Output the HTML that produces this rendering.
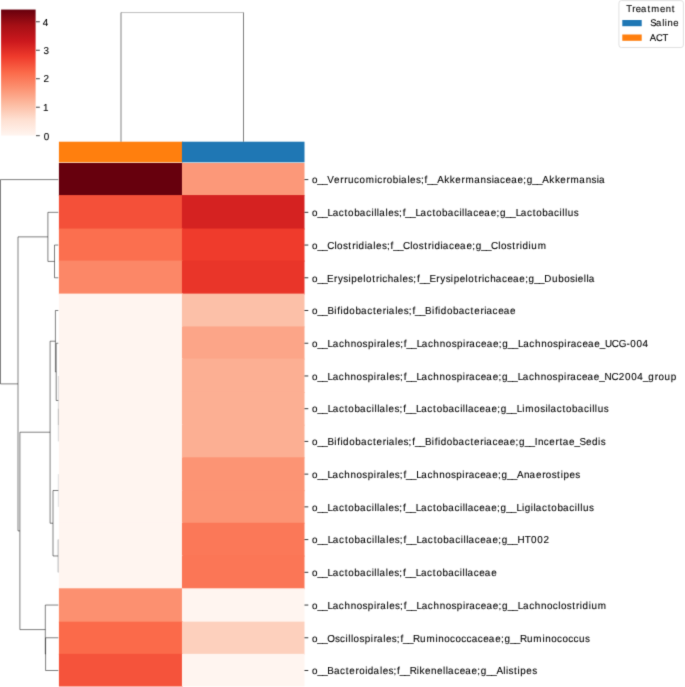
<!DOCTYPE html>
<html><head><meta charset="utf-8"><style>
html,body{margin:0;padding:0;background:#fff;width:685px;height:687px;overflow:hidden;position:relative}
svg text{font-family:"Liberation Sans",sans-serif;fill:#000;stroke:#000;stroke-width:0.1px;text-rendering:geometricPrecision}
</style></head><body>
<svg width="685" height="687" viewBox="0 0 685 687" style="position:absolute;left:0;top:0">
<defs><filter id="soft" x="0" y="0" width="1" height="1" color-interpolation-filters="sRGB"><feConvolveMatrix order="3" kernelMatrix="0.0144 0.0912 0.0144 0.0912 0.5776 0.0912 0.0144 0.0912 0.0144" edgeMode="duplicate" preserveAlpha="true"/></filter></defs>
<g filter="url(#soft)">
<rect width="685" height="687" fill="#fff"/>
<defs><linearGradient id="cb" x1="0" y1="1" x2="0" y2="0">
<stop offset="0.0000" stop-color="#fff5f0"/>
<stop offset="0.1250" stop-color="#fee0d2"/>
<stop offset="0.2500" stop-color="#fcbba1"/>
<stop offset="0.3750" stop-color="#fc9272"/>
<stop offset="0.5000" stop-color="#fb6a4a"/>
<stop offset="0.6250" stop-color="#ef3b2c"/>
<stop offset="0.7500" stop-color="#cb181d"/>
<stop offset="0.8750" stop-color="#a50f15"/>
<stop offset="1.0000" stop-color="#67000d"/>
</linearGradient></defs>
<rect x="1.1" y="9.55" width="34.50" height="126.05" fill="url(#cb)"/>
<line x1="36.0" y1="135.70" x2="39.8" y2="135.70" stroke="#000" stroke-width="0.75"/>
<text transform="scale(0.975,1)" x="44.97" y="140.00" font-size="10.15">0</text>
<line x1="36.0" y1="107.22" x2="39.8" y2="107.22" stroke="#000" stroke-width="0.75"/>
<text transform="scale(0.975,1)" x="44.22" y="111.00" font-size="10.15">1</text>
<line x1="36.0" y1="78.74" x2="39.8" y2="78.74" stroke="#000" stroke-width="0.75"/>
<text transform="scale(0.975,1)" x="44.51" y="82.00" font-size="10.15">2</text>
<line x1="36.0" y1="50.26" x2="39.8" y2="50.26" stroke="#000" stroke-width="0.75"/>
<text transform="scale(0.975,1)" x="44.54" y="54.00" font-size="10.15">3</text>
<line x1="36.0" y1="21.78" x2="39.8" y2="21.78" stroke="#000" stroke-width="0.75"/>
<text transform="scale(0.975,1)" x="43.88" y="26.00" font-size="10.15">4</text>
<rect x="58.9" y="141.7" width="124.05" height="20.65" fill="#ff7f0e"/>
<rect x="181.95" y="141.7" width="122.55" height="20.65" fill="#1f77b4"/>
<rect x="58.9" y="162.95" width="124.05" height="33.12" fill="#67000d"/>
<rect x="181.95" y="162.95" width="122.55" height="33.12" fill="#fc9879"/>
<rect x="58.9" y="195.07" width="124.05" height="34.47" fill="#f45039"/>
<rect x="181.95" y="195.07" width="122.55" height="34.47" fill="#d52221"/>
<rect x="58.9" y="228.54" width="124.05" height="33.06" fill="#fb6f4f"/>
<rect x="181.95" y="228.54" width="122.55" height="33.06" fill="#ef3b2c"/>
<rect x="58.9" y="260.60" width="124.05" height="34.00" fill="#fc8767"/>
<rect x="181.95" y="260.60" width="122.55" height="34.00" fill="#e93529"/>
<rect x="58.9" y="293.60" width="124.05" height="33.82" fill="#fff5f0"/>
<rect x="181.95" y="293.60" width="122.55" height="33.82" fill="#fcc0a8"/>
<rect x="58.9" y="326.42" width="124.05" height="33.18" fill="#fff5f0"/>
<rect x="181.95" y="326.42" width="122.55" height="33.18" fill="#fca588"/>
<rect x="58.9" y="358.60" width="124.05" height="34.39" fill="#fff5f0"/>
<rect x="181.95" y="358.60" width="122.55" height="34.39" fill="#fcaf93"/>
<rect x="58.9" y="391.99" width="124.05" height="33.72" fill="#fff5f0"/>
<rect x="181.95" y="391.99" width="122.55" height="33.72" fill="#fcaf93"/>
<rect x="58.9" y="424.71" width="124.05" height="33.59" fill="#fff5f0"/>
<rect x="181.95" y="424.71" width="122.55" height="33.59" fill="#fcaf93"/>
<rect x="58.9" y="457.30" width="124.05" height="33.85" fill="#fff5f0"/>
<rect x="181.95" y="457.30" width="122.55" height="33.85" fill="#fc9474"/>
<rect x="58.9" y="490.15" width="124.05" height="33.58" fill="#fff5f0"/>
<rect x="181.95" y="490.15" width="122.55" height="33.58" fill="#fc9474"/>
<rect x="58.9" y="522.73" width="124.05" height="33.86" fill="#fff5f0"/>
<rect x="181.95" y="522.73" width="122.55" height="33.86" fill="#fb7858"/>
<rect x="58.9" y="555.59" width="124.05" height="33.71" fill="#fff5f0"/>
<rect x="181.95" y="555.59" width="122.55" height="33.71" fill="#fb7656"/>
<rect x="58.9" y="588.30" width="124.05" height="34.36" fill="#fc9070"/>
<rect x="181.95" y="588.30" width="122.55" height="34.36" fill="#fff5f0"/>
<rect x="58.9" y="621.66" width="124.05" height="33.18" fill="#fb6a4a"/>
<rect x="181.95" y="621.66" width="122.55" height="33.18" fill="#fdd0bd"/>
<rect x="58.9" y="653.84" width="124.05" height="32.61" fill="#f5533b"/>
<rect x="181.95" y="653.84" width="122.55" height="32.61" fill="#fff5f0"/>
<line x1="304.5" y1="179.60" x2="308.30" y2="179.60" stroke="#000" stroke-width="0.8"/>
<text transform="scale(0.975,1)" x="319.98 325.51 330.47 335.76 342.70 349.10 353.16 356.99 363.05 368.65 375.14 384.42 387.00 392.93 396.65 402.90 409.06 411.41 417.89 420.65 426.62 431.73 435.48 438.18 443.14 448.43 455.64 461.38 466.91 473.31 477.46 486.34 492.91 498.97 504.28 506.63 512.94 518.57 524.27 530.75 536.67 540.21 545.93 550.89 556.18 563.38 569.12 574.65 581.06 585.20 594.08 600.66 606.72 612.03 614.38" y="183.00" font-size="10.15">o__Verrucomicrobiales;f__Akkermansiaceae;g__Akkermansia</text>
<line x1="304.5" y1="212.33" x2="308.30" y2="212.33" stroke="#000" stroke-width="0.8"/>
<text transform="scale(0.975,1)" x="319.98 325.53 330.50 335.95 341.18 347.50 353.40 357.00 363.27 369.03 375.35 381.00 383.75 386.52 388.88 395.37 398.14 404.12 409.25 413.00 415.71 420.68 426.13 431.37 437.68 443.59 447.19 453.45 459.22 465.54 471.18 473.94 476.70 479.07 485.39 491.03 496.74 503.24 509.17 512.72 518.44 523.42 528.86 534.10 540.42 546.32 549.92 556.18 561.95 568.27 573.91 576.67 579.44 582.25 588.37" y="216.00" font-size="10.15">o__Lactobacillales;f__Lactobacillaceae;g__Lactobacillus</text>
<line x1="304.5" y1="245.05" x2="308.30" y2="245.05" stroke="#000" stroke-width="0.8"/>
<text transform="scale(0.975,1)" x="319.98 325.53 330.50 335.54 342.98 345.71 351.70 357.27 361.21 365.00 367.78 374.08 376.44 382.93 385.69 391.68 396.80 400.56 403.27 408.24 413.28 420.73 423.46 429.44 435.01 438.95 442.75 445.52 451.82 454.18 460.50 466.14 471.86 478.35 484.28 487.83 493.56 498.53 503.57 511.02 513.75 519.73 525.30 529.24 533.03 535.81 542.11 544.92 551.56" y="249.00" font-size="10.15">o__Clostridiales;f__Clostridiaceae;g__Clostridium</text>
<line x1="304.5" y1="277.78" x2="308.30" y2="277.78" stroke="#000" stroke-width="0.8"/>
<text transform="scale(0.975,1)" x="319.98 325.52 330.49 335.51 342.62 346.55 352.15 357.47 360.37 366.54 372.65 375.38 381.76 385.69 389.49 392.07 397.79 403.61 410.10 412.87 418.85 423.97 427.73 430.44 435.41 440.42 447.53 451.47 457.07 462.39 465.29 471.45 477.57 480.30 486.67 490.61 494.40 496.99 502.71 508.53 514.84 520.48 526.20 532.69 538.62 542.17 547.90 552.87 558.34 566.11 572.51 578.64 584.62 589.94 592.70 598.81 601.57 603.94" y="282.00" font-size="10.15">o__Erysipelotrichales;f__Erysipelotrichaceae;g__Dubosiella</text>
<line x1="304.5" y1="310.51" x2="308.30" y2="310.51" stroke="#000" stroke-width="0.8"/>
<text transform="scale(0.975,1)" x="319.99 325.54 330.52 335.84 342.92 345.90 349.19 351.98 358.25 364.53 370.31 376.64 382.55 386.20 392.63 396.43 398.79 405.30 408.07 414.06 419.20 422.96 425.68 430.66 435.98 443.06 446.04 449.33 452.12 458.39 464.67 470.45 476.78 482.69 486.34 492.76 496.57 498.93 505.26 510.92 516.65 523.16" y="314.00" font-size="10.15">o__Bifidobacteriales;f__Bifidobacteriaceae</text>
<line x1="304.5" y1="343.24" x2="308.30" y2="343.24" stroke="#000" stroke-width="0.8"/>
<text transform="scale(0.975,1)" x="319.99 325.55 330.54 336.01 341.26 347.59 353.34 359.67 365.87 371.87 377.34 383.53 386.60 390.00 396.51 399.29 405.29 410.43 414.19 416.92 421.91 427.38 432.63 438.96 444.70 451.04 457.24 463.24 468.71 474.90 477.97 481.37 487.71 493.37 499.11 505.62 511.57 515.13 520.88 525.86 531.33 536.58 542.92 548.66 555.00 561.19 567.19 572.67 578.85 581.92 585.33 591.66 597.33 603.06 609.58 615.14 620.42 627.50 634.61 642.54 646.38 652.73 659.07" y="347.00" font-size="10.15">o__Lachnospirales;f__Lachnospiraceae;g__Lachnospiraceae_UCG-004</text>
<line x1="304.5" y1="375.96" x2="308.30" y2="375.96" stroke="#000" stroke-width="0.8"/>
<text transform="scale(0.975,1)" x="319.98 325.54 330.52 335.97 341.22 347.54 353.27 359.60 365.78 371.78 377.24 383.42 386.48 389.88 396.38 399.15 405.14 410.28 414.03 416.75 421.73 427.19 432.43 438.76 444.49 450.82 457.00 462.99 468.46 474.63 477.70 481.09 487.42 493.07 498.80 505.30 511.24 514.80 520.53 525.51 530.97 536.21 542.54 548.27 554.59 560.78 566.77 572.24 578.41 581.48 584.87 591.20 596.85 602.58 609.08 614.63 619.98 627.13 634.54 641.01 647.34 653.68 659.36 664.93 671.53 675.27 681.45 687.85" y="380.00" font-size="10.15">o__Lachnospirales;f__Lachnospiraceae;g__Lachnospiraceae_NC2004_group</text>
<line x1="304.5" y1="408.69" x2="308.30" y2="408.69" stroke="#000" stroke-width="0.8"/>
<text transform="scale(0.975,1)" x="319.99 325.57 330.56 336.04 341.30 347.65 353.57 357.20 363.50 369.29 375.64 381.31 384.08 386.85 389.24 395.75 398.54 404.55 409.70 413.47 416.20 421.20 426.68 431.94 438.29 444.21 447.84 454.13 459.93 466.28 471.94 474.72 477.49 479.88 486.23 491.90 497.64 504.17 510.12 513.70 519.45 524.45 529.93 535.58 538.76 548.06 554.07 559.41 562.18 564.57 570.92 576.84 580.47 586.76 592.56 598.91 604.57 607.35 610.12 612.96 619.11" y="412.00" font-size="10.15">o__Lactobacillales;f__Lactobacillaceae;g__Limosilactobacillus</text>
<line x1="304.5" y1="441.42" x2="308.30" y2="441.42" stroke="#000" stroke-width="0.8"/>
<text transform="scale(0.975,1)" x="319.98 325.53 330.51 335.82 342.89 345.86 349.16 351.93 358.20 364.47 370.24 376.57 382.47 386.12 392.54 396.33 398.70 405.19 407.96 413.95 419.08 422.83 425.55 430.53 435.83 442.91 445.88 449.17 451.95 458.22 464.49 470.26 476.58 482.49 486.13 492.55 496.35 498.71 505.04 510.68 516.41 522.91 528.84 532.40 538.13 543.10 548.45 551.68 557.72 563.37 569.79 573.84 577.08 583.58 589.13 594.25 601.00 607.13 613.44 616.07" y="445.00" font-size="10.15">o__Bifidobacteriales;f__Bifidobacteriaceae;g__Incertae_Sedis</text>
<line x1="304.5" y1="474.14" x2="308.30" y2="474.14" stroke="#000" stroke-width="0.8"/>
<text transform="scale(0.975,1)" x="319.98 325.52 330.48 335.93 341.15 347.47 353.18 359.49 365.66 371.63 377.09 383.25 386.30 389.69 396.18 398.94 404.91 410.03 413.78 416.49 421.46 426.90 432.13 438.44 444.16 450.47 456.63 462.61 468.06 474.23 477.28 480.66 486.98 492.61 498.32 504.81 510.73 514.28 520.00 524.96 530.26 537.39 543.19 549.68 556.09 559.81 565.79 571.36 575.00 577.89 584.06 590.03" y="478.00" font-size="10.15">o__Lachnospirales;f__Lachnospiraceae;g__Anaerostipes</text>
<line x1="304.5" y1="506.87" x2="308.30" y2="506.87" stroke="#000" stroke-width="0.8"/>
<text transform="scale(0.975,1)" x="319.99 325.56 330.55 336.02 341.27 347.61 353.53 357.15 363.44 369.23 375.56 381.23 383.99 386.77 389.15 395.65 398.44 404.44 409.58 413.35 416.08 421.07 426.54 431.79 438.13 444.05 447.67 453.96 459.75 466.09 471.75 474.51 477.29 479.67 486.01 491.67 497.41 503.93 509.87 513.44 519.19 524.18 529.65 535.30 538.09 544.41 547.18 549.56 555.89 561.81 565.44 571.72 577.51 583.85 589.51 592.28 595.05 597.88 604.02" y="511.00" font-size="10.15">o__Lactobacillales;f__Lactobacillaceae;g__Ligilactobacillus</text>
<line x1="304.5" y1="539.60" x2="308.30" y2="539.60" stroke="#000" stroke-width="0.8"/>
<text transform="scale(0.975,1)" x="320.00 325.60 330.62 336.12 341.41 347.78 353.73 357.38 363.70 369.52 375.90 381.58 384.37 387.15 389.56 396.09 398.90 404.94 410.10 413.89 416.64 421.66 427.16 432.45 438.82 444.77 448.42 454.74 460.56 466.94 472.62 475.41 478.20 480.60 486.97 492.67 498.44 505.00 510.97 514.57 520.35 525.37 530.78 538.19 544.72 551.11 557.36" y="543.00" font-size="10.15">o__Lactobacillales;f__Lactobacillaceae;g__HT002</text>
<line x1="304.5" y1="572.32" x2="308.30" y2="572.32" stroke="#000" stroke-width="0.8"/>
<text transform="scale(0.975,1)" x="319.99 325.55 330.54 336.01 341.26 347.59 353.51 357.13 363.41 369.20 375.53 381.19 383.96 386.73 389.11 395.61 398.39 404.39 409.53 413.30 416.02 421.01 426.48 431.73 438.07 443.98 447.60 453.88 459.67 466.01 471.67 474.43 477.20 479.58 485.92 491.58 497.31 503.83" y="576.00" font-size="10.15">o__Lactobacillales;f__Lactobacillaceae</text>
<line x1="304.5" y1="605.05" x2="308.30" y2="605.05" stroke="#000" stroke-width="0.8"/>
<text transform="scale(0.975,1)" x="319.99 325.54 330.53 335.99 341.24 347.57 353.30 359.63 365.82 371.82 377.29 383.47 386.53 389.94 396.44 399.21 405.21 410.34 414.10 416.83 421.81 427.27 432.52 438.85 444.59 450.92 457.10 463.10 468.57 474.75 477.82 481.22 487.55 493.21 498.94 505.44 511.38 514.95 520.69 525.67 531.13 536.38 542.71 548.44 554.77 560.96 566.92 572.57 575.31 581.30 586.89 590.83 594.63 597.42 603.73 606.55 613.21" y="609.00" font-size="10.15">o__Lachnospirales;f__Lachnospiraceae;g__Lachnoclostridium</text>
<line x1="304.5" y1="637.78" x2="308.30" y2="637.78" stroke="#000" stroke-width="0.8"/>
<text transform="scale(0.975,1)" x="319.97 325.50 330.46 335.70 343.66 348.79 354.42 357.17 359.92 362.64 368.61 374.05 380.21 383.26 386.64 393.11 395.87 401.83 406.95 410.69 413.39 418.35 423.57 430.77 437.38 446.67 449.51 455.66 461.59 467.18 473.11 478.56 483.79 490.09 495.71 501.41 507.89 513.81 517.35 523.05 528.01 533.24 540.43 547.04 556.33 559.17 565.33 571.25 576.84 582.77 588.22 593.90 600.00" y="642.00" font-size="10.15">o__Oscillospirales;f__Ruminococcaceae;g__Ruminococcus</text>
<line x1="304.5" y1="670.50" x2="308.30" y2="670.50" stroke="#000" stroke-width="0.8"/>
<text transform="scale(0.975,1)" x="319.98 325.52 330.48 335.78 342.44 348.75 354.65 358.28 364.69 368.42 374.54 377.31 383.20 389.68 392.44 398.42 403.55 407.29 410.00 414.97 420.21 427.42 430.35 435.88 442.09 448.29 454.40 457.16 459.52 465.83 471.47 477.18 483.67 489.59 493.14 498.86 503.83 509.12 516.16 518.93 521.55 527.12 530.76 533.65 539.82 545.80" y="674.00" font-size="10.15">o__Bacteroidales;f__Rikenellaceae;g__Alistipes</text>
<path d="M58.3,408.69H58.3V441.42H58.3" stroke="#000" stroke-width="0.5" fill="none" stroke-opacity="0.3"/>
<path d="M58.3,375.96H58.3V425.05H58.3" stroke="#000" stroke-width="0.5" fill="none" stroke-opacity="0.3"/>
<path d="M58.3,343.24H56.2V400.51H58.3" stroke="#000" stroke-width="0.5" fill="none"/>
<path d="M58.3,310.51H55.4V371.87H56.2" stroke="#000" stroke-width="0.5" fill="none"/>
<path d="M58.3,474.14H58.3V506.87H58.3" stroke="#000" stroke-width="0.5" fill="none" stroke-opacity="0.25"/>
<path d="M58.3,539.60H58.1V572.32H58.3" stroke="#000" stroke-width="0.5" fill="none" stroke-opacity="0.6"/>
<path d="M58.3,490.51H53.0V555.96H58.1" stroke="#000" stroke-width="0.5" fill="none"/>
<path d="M55.4,341.19H50.1V523.23H53.0" stroke="#000" stroke-width="0.5" fill="none"/>
<path d="M58.3,637.78H45.6V670.50H58.3" stroke="#000" stroke-width="0.5" fill="none"/>
<path d="M58.3,605.05H45.3V654.14H45.6" stroke="#000" stroke-width="0.5" fill="none"/>
<path d="M50.1,432.21H19.9V629.60H45.3" stroke="#000" stroke-width="0.5" fill="none"/>
<path d="M58.3,245.05H54.5V277.78H58.3" stroke="#000" stroke-width="0.5" fill="none"/>
<path d="M58.3,212.33H47.9V261.42H54.5" stroke="#000" stroke-width="0.5" fill="none"/>
<path d="M47.9,236.87H18.0V530.90H19.9" stroke="#000" stroke-width="0.5" fill="none"/>
<path d="M58.3,179.60H0.5V383.89H18.0" stroke="#000" stroke-width="0.5" fill="none"/>
<path d="M121.0,141.7V12.55M243.5,12.55V141.7" stroke="#000" stroke-width="0.5" fill="none"/>
<path d="M121.0,12.55H243.5" stroke="#000" stroke-width="0.5" stroke-opacity="0.5" fill="none"/>
<rect x="618.9" y="0.6" width="64.5" height="46.9" rx="2.5" ry="2.5" fill="#fff" stroke="#d9d9d9" stroke-width="0.8"/>
<text transform="scale(0.975,1)" x="642.23 648.47 652.09 657.57 664.05 667.91 676.83 682.79 688.99" y="12.30" font-size="9.7185">Treatment</text>
<rect x="622.3" y="20.0" width="19.4" height="6.2" fill="#1f77b4"/>
<rect x="622.3" y="34.5" width="19.4" height="6.3" fill="#ff7f0e"/>
<text transform="scale(0.975,1)" x="666.80 672.88 679.11 681.76 684.50 690.46" y="26.40" font-size="9.7185">Saline</text>
<text transform="scale(0.975,1)" x="666.51 672.76 679.60" y="40.90" font-size="9.7185">ACT</text>
</g></svg>
</body></html>
